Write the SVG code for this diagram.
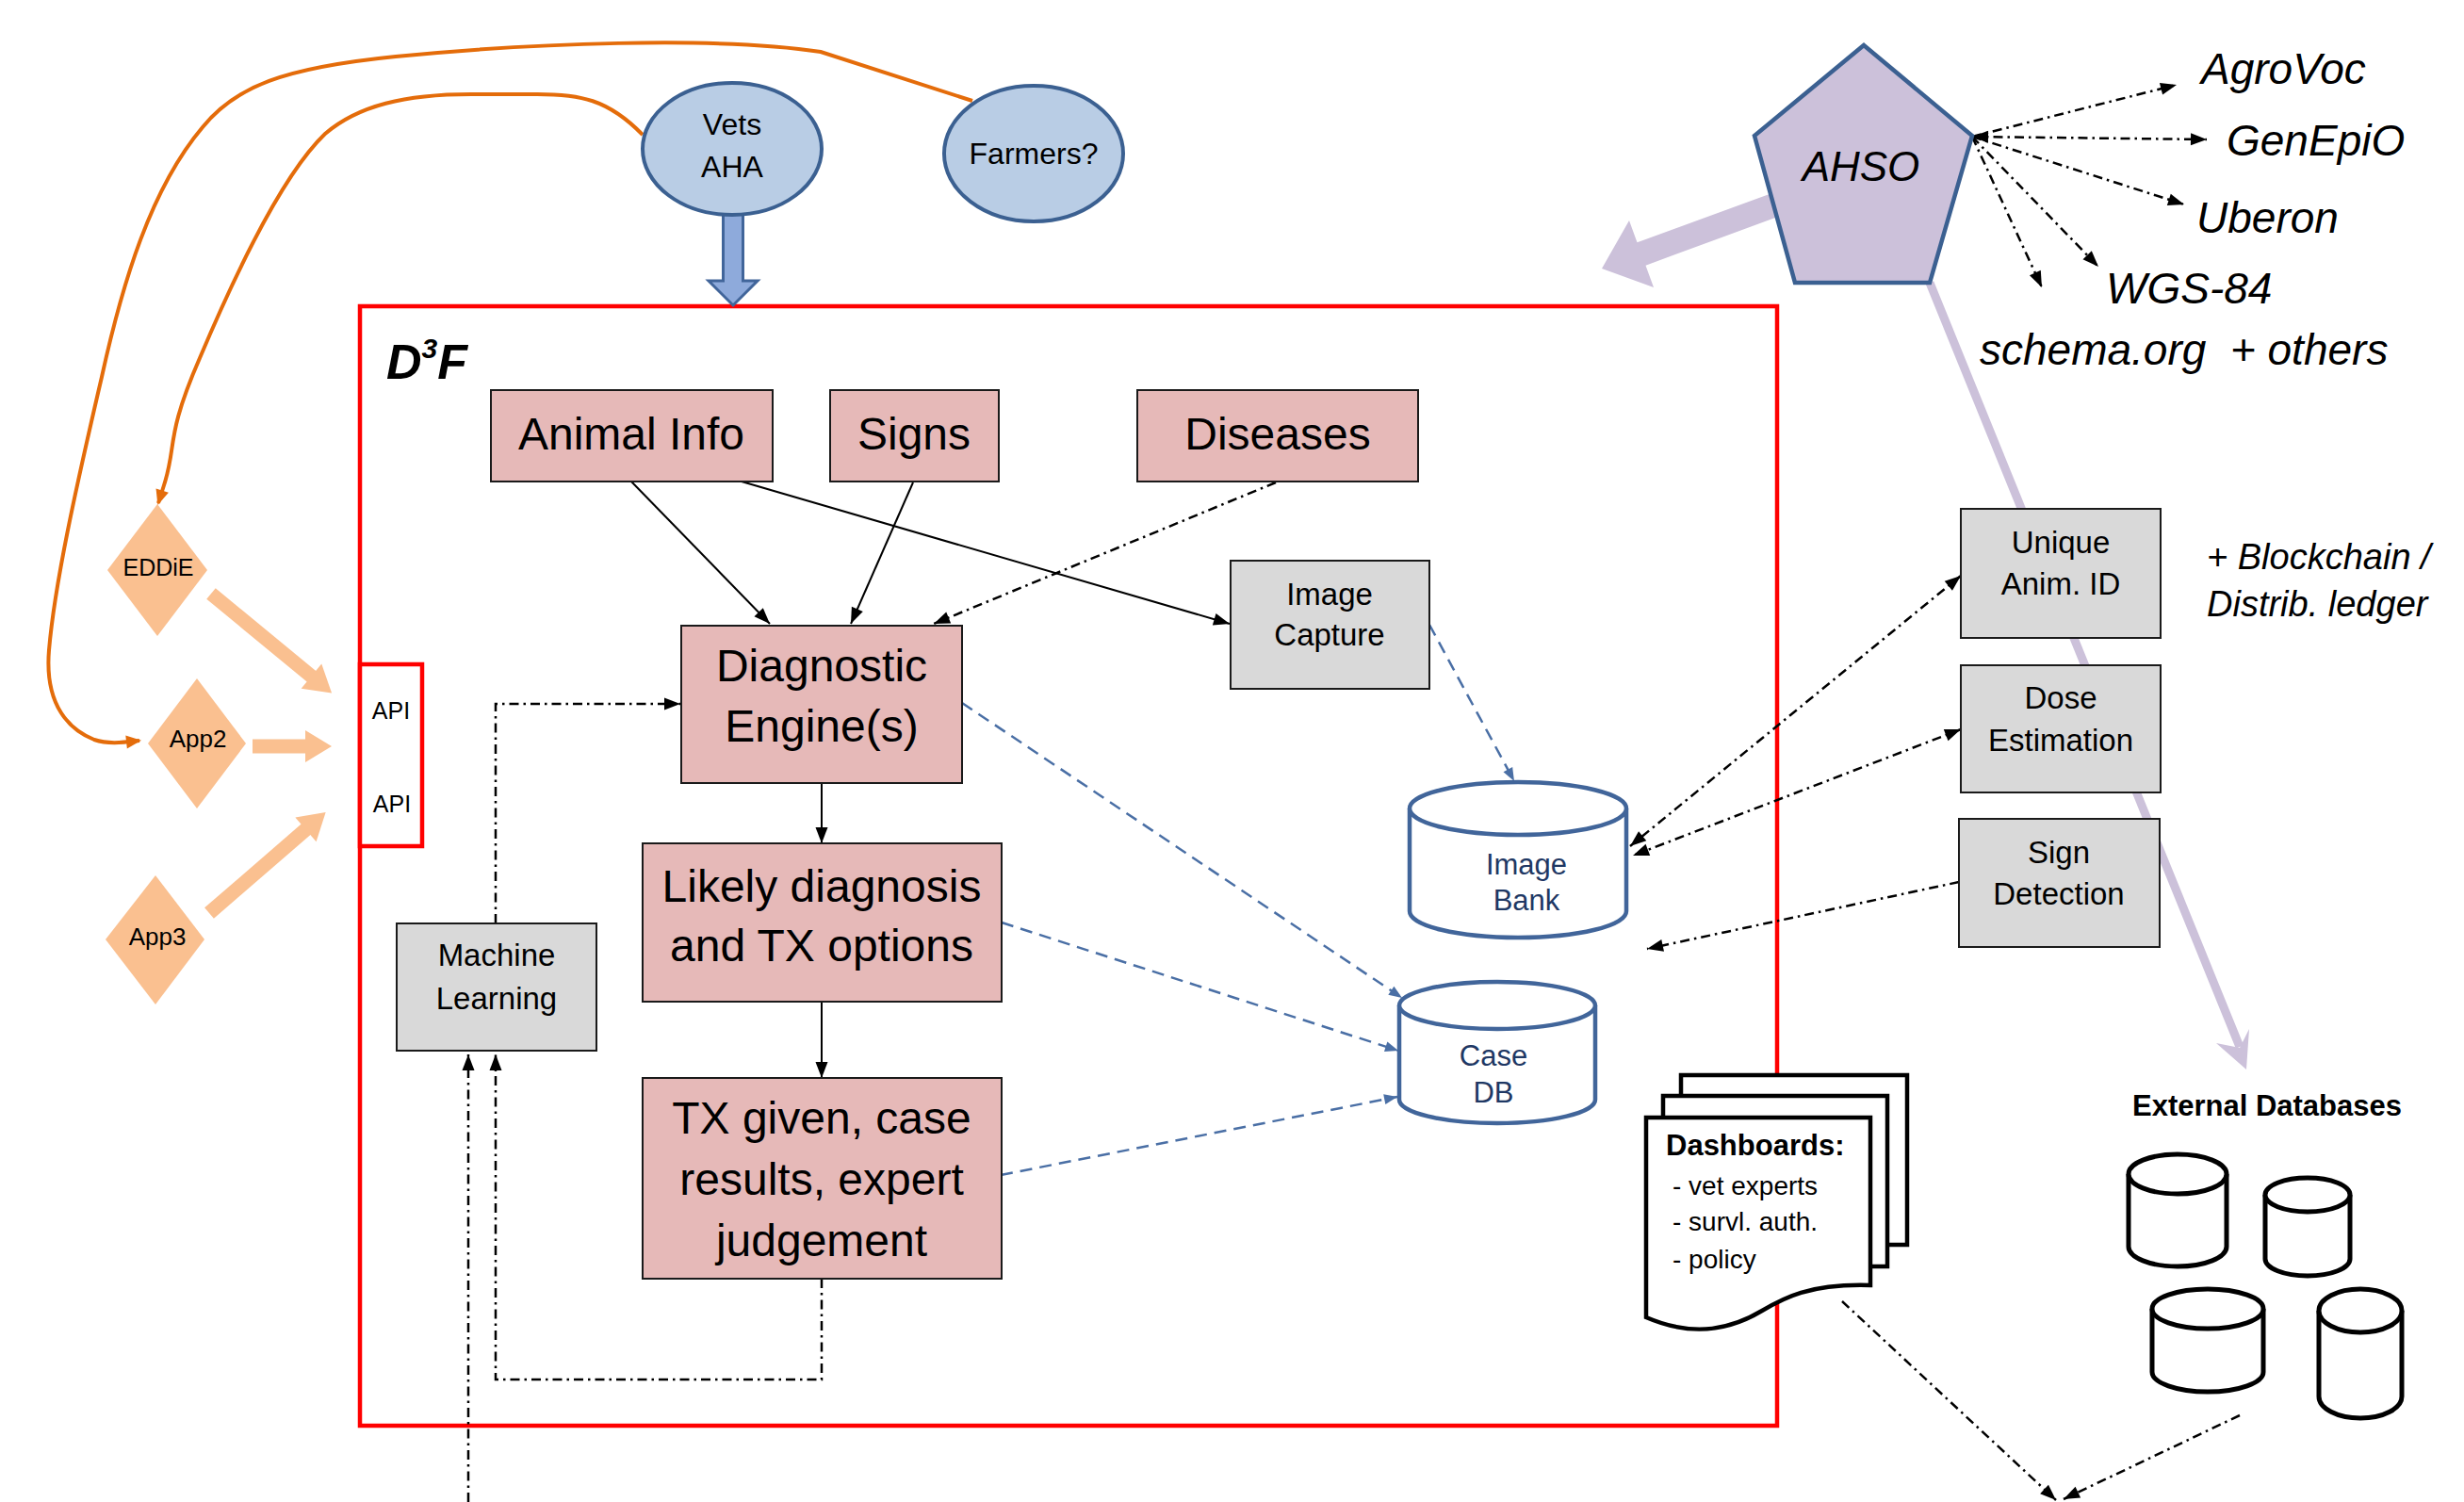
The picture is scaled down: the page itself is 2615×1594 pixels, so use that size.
<svg xmlns="http://www.w3.org/2000/svg" width="2615" height="1594" viewBox="0 0 2615 1594">
  <defs>
    <style>
      .t { font-family: "Liberation Sans", Arial, sans-serif; fill: #000; text-anchor: middle; dominant-baseline: central; }
      .ti { font-family: "Liberation Sans", Arial, sans-serif; fill: #000; font-style: italic; dominant-baseline: central; }
      .pink { fill: #E6B9B8; stroke: #1a1a1a; stroke-width: 2; }
      .gray { fill: #D9D9D9; stroke: #1a1a1a; stroke-width: 2; }
      .user { fill: #B9CDE5; stroke: #3B6091; stroke-width: 4; }
      .app { fill: #FAC090; }
      .solid { stroke: #000; stroke-width: 2; fill: none; marker-end: url(#ah); }
      .dd { stroke: #000; stroke-width: 2.5; fill: none; stroke-dasharray: 10 5 2.5 5; }
      .bd { stroke: #4A6FA5; stroke-width: 2.5; fill: none; stroke-dasharray: 13 8; marker-end: url(#ahBlue); }
      .orange { stroke: #E46C0A; stroke-width: 4; fill: none; marker-end: url(#ahOrange); }
      .feed { stroke: #FAC090; stroke-width: 15; fill: none; marker-end: url(#headFeed); }
      .bluecyl { fill: #fff; stroke: #41659A; stroke-width: 4.5; }
      .blkcyl { fill: #fff; stroke: #000; stroke-width: 5; }
      .page { fill: #fff; stroke: #000; stroke-width: 4.5; }
    </style>
    <marker id="ah" markerUnits="userSpaceOnUse" orient="auto" overflow="visible" markerWidth="1" markerHeight="1">
      <path d="M0,0 L-17,-6.5 L-17,6.5 Z" fill="#000"/>
    </marker>
    <marker id="ahStart" markerUnits="userSpaceOnUse" orient="auto-start-reverse" overflow="visible" markerWidth="1" markerHeight="1">
      <path d="M0,0 L-17,-6.5 L-17,6.5 Z" fill="#000"/>
    </marker>
    <marker id="ahBlue" markerUnits="userSpaceOnUse" orient="auto" overflow="visible" markerWidth="1" markerHeight="1">
      <path d="M0,0 L-14,-5.5 L-14,5.5 Z" fill="#4A6FA5"/>
    </marker>
    <marker id="ahOrange" markerUnits="userSpaceOnUse" orient="auto" overflow="visible" markerWidth="1" markerHeight="1">
      <path d="M2,0 L-14,-7 L-14,7 Z" fill="#E46C0A"/>
    </marker>
    <marker id="headFeed" markerUnits="userSpaceOnUse" orient="auto" overflow="visible" markerWidth="1" markerHeight="1">
      <path d="M-2,-17 L26,0 L-2,17 Z" fill="#FAC090"/>
    </marker>
  </defs>

  <rect width="2615" height="1594" fill="#fff"/>

  <!-- D3F framework boundary -->
  <g id="d3f-frame">
    <rect x="382" y="325" width="1504" height="1188" fill="none" stroke="#FF0000" stroke-width="4.5"/>
    <text x="410" y="402" font-family="'Liberation Sans', Arial, sans-serif" font-size="52" font-weight="bold" font-style="italic">D<tspan font-size="30" dy="-22">3</tspan><tspan dy="22">F</tspan></text>
  </g>

  <!-- connectors -->
  <g id="connectors">
    <!-- user links to apps -->
    <path class="orange" d="M1032,107 L871,55 C760,38 560,46 420,60 C300,72 250,92 215,135 C160,200 130,300 108,400 C80,520 58,620 52,690 C47,750 75,775 100,785 C115,790 130,788 148,786"/>
    <path class="orange" d="M682,143 C645,105 615,100 570,100 L500,100 C430,100 380,112 345,142 C300,185 250,290 212,380 C175,465 188,472 174,515 L168,534"/>

    <!-- apps feeding the APIs -->
    <line class="feed" x1="224" y1="630" x2="332" y2="719"/>
    <line class="feed" x1="268" y1="792" x2="326" y2="792"/>
    <line class="feed" x1="222" y1="969" x2="326" y2="879"/>

    <!-- users into D3F -->
    <path d="M767.5,226 H788.5 V298 H804 L778,324 L752,298 H767.5 Z" fill="#8EAADB" stroke="#41659A" stroke-width="3"/>

    <!-- AHSO feeding D3F -->
    <path d="M1889.5,229 L1746.5,281.7 L1755,305 L1700,285 L1729,234 L1737.5,257.3 L1880.5,205 Z" fill="#CCC1DA"/>
    <!-- AHSO link to external databases -->
    <line x1="2048" y1="300" x2="2377" y2="1111" stroke="#CCC1DA" stroke-width="9"/>
    <path d="M2384,1135 L2352,1107 L2377,1112 L2387,1092 Z" fill="#CCC1DA"/>

    <!-- AHSO to other ontologies -->
    <line class="dd" x1="2093" y1="145" x2="2310" y2="90" marker-end="url(#ah)"/>
    <line class="dd" x1="2093" y1="145" x2="2342" y2="148" marker-end="url(#ah)" marker-start="url(#ahStart)"/>
    <line class="dd" x1="2093" y1="145" x2="2318" y2="217" marker-end="url(#ah)"/>
    <line class="dd" x1="2093" y1="145" x2="2227" y2="283" marker-end="url(#ah)"/>
    <line class="dd" x1="2093" y1="145" x2="2167" y2="305" marker-end="url(#ah)"/>

    <!-- inputs to the diagnostic engine -->
    <line class="solid" x1="670" y1="511" x2="817" y2="662"/>
    <line class="solid" x1="787" y1="511" x2="1305" y2="662"/>
    <line class="solid" x1="969" y1="512" x2="903" y2="662"/>
    <line class="dd" x1="1354" y1="512" x2="991" y2="662" marker-end="url(#ah)"/>
    <line class="solid" x1="872" y1="831" x2="872" y2="895"/>
    <line class="solid" x1="872" y1="1063" x2="872" y2="1144"/>

    <!-- storage links -->
    <line class="bd" x1="1517" y1="663" x2="1607" y2="829"/>
    <line class="bd" x1="1021" y1="746" x2="1488" y2="1059"/>
    <line class="bd" x1="1063" y1="979" x2="1484" y2="1115"/>
    <line class="bd" x1="1062" y1="1247" x2="1483" y2="1164"/>

    <!-- learning loop -->
    <path class="dd" d="M526,980 V747 H722" marker-end="url(#ah)"/>
    <path class="dd" d="M872,1357 V1464 H526 V1119" marker-end="url(#ah)"/>
    <path class="dd" d="M497,1594 V1119" marker-end="url(#ah)"/>

    <!-- AI services -->
    <line class="dd" x1="2081" y1="611" x2="1730" y2="898" marker-end="url(#ah)" marker-start="url(#ahStart)"/>
    <line class="dd" x1="2081" y1="774" x2="1733" y2="908" marker-end="url(#ah)" marker-start="url(#ahStart)"/>
    <line class="dd" x1="2079" y1="936" x2="1748" y2="1007" marker-end="url(#ah)"/>

    <!-- outputs leaving the picture -->
    <line class="dd" x1="1955" y1="1381" x2="2182" y2="1592" marker-end="url(#ah)"/>
    <line class="dd" x1="2377" y1="1502" x2="2190" y2="1591" marker-end="url(#ah)"/>
  </g>

  <!-- users -->
  <g id="vets-aha">
    <ellipse class="user" cx="777" cy="158" rx="95" ry="70"/>
    <text class="t" x="777" y="132" font-size="32">Vets</text>
    <text class="t" x="777" y="177" font-size="32">AHA</text>
  </g>
  <g id="farmers">
    <ellipse class="user" cx="1097" cy="163" rx="95" ry="72"/>
    <text class="t" x="1097" y="163" font-size="32">Farmers?</text>
  </g>

  <!-- apps -->
  <g id="eddie">
    <polygon class="app" points="167,535 220,605 167,675 114,605"/>
    <text class="t" x="168" y="602" font-size="25">EDDiE</text>
  </g>
  <g id="app2">
    <polygon class="app" points="209,720 261,789 209,858 157,789"/>
    <text class="t" x="210" y="784" font-size="26">App2</text>
  </g>
  <g id="app3">
    <polygon class="app" points="165,929 217,997 165,1066 112,997"/>
    <text class="t" x="167" y="994" font-size="26">App3</text>
  </g>

  <g id="api">
    <rect x="382" y="705" width="66" height="193" fill="#fff" stroke="#FF0000" stroke-width="4.5"/>
    <text class="t" x="415" y="754" font-size="25">API</text>
    <text class="t" x="416" y="853" font-size="25">API</text>
  </g>

  <!-- knowledge inputs -->
  <g id="animal-info">
    <rect class="pink" x="521" y="414" width="299" height="97"/>
    <text class="t" x="670" y="460" font-size="48">Animal Info</text>
  </g>
  <g id="signs">
    <rect class="pink" x="881" y="414" width="179" height="97"/>
    <text class="t" x="970" y="460" font-size="48">Signs</text>
  </g>
  <g id="diseases">
    <rect class="pink" x="1207" y="414" width="298" height="97"/>
    <text class="t" x="1356" y="460" font-size="48">Diseases</text>
  </g>

  <!-- diagnosis chain -->
  <g id="diagnostic-engine">
    <rect class="pink" x="723" y="664" width="298" height="167"/>
    <text class="t" x="872" y="706" font-size="48">Diagnostic</text>
    <text class="t" x="872" y="770" font-size="48">Engine(s)</text>
  </g>
  <g id="likely-diagnosis">
    <rect class="pink" x="682" y="895" width="381" height="168"/>
    <text class="t" x="872" y="940" font-size="48">Likely diagnosis</text>
    <text class="t" x="872" y="1003" font-size="48">and TX options</text>
  </g>
  <g id="tx-given">
    <rect class="pink" x="682" y="1144" width="381" height="213"/>
    <text class="t" x="872" y="1186" font-size="48">TX given, case</text>
    <text class="t" x="872" y="1251" font-size="48">results, expert</text>
    <text class="t" x="872" y="1316" font-size="48">judgement</text>
  </g>

  <g id="image-capture">
    <rect class="gray" x="1306" y="595" width="211" height="136"/>
    <text class="t" x="1411" y="630" font-size="33">Image</text>
    <text class="t" x="1411" y="673" font-size="33">Capture</text>
  </g>
  <g id="machine-learning">
    <rect class="gray" x="421" y="980" width="212" height="135"/>
    <text class="t" x="527" y="1013" font-size="33">Machine</text>
    <text class="t" x="527" y="1059" font-size="33">Learning</text>
  </g>

  <!-- data stores -->
  <g id="image-bank">
    <path class="bluecyl" d="M1496,858 V967 A115,28 0 0 0 1726,967 V858"/>
    <ellipse class="bluecyl" cx="1611" cy="858" rx="115" ry="28"/>
    <text class="t" x="1620" y="917" font-size="31" style="fill:#1F3864">Image</text>
    <text class="t" x="1620" y="955" font-size="31" style="fill:#1F3864">Bank</text>
  </g>
  <g id="case-db">
    <path class="bluecyl" d="M1485,1067 V1167 A104,25 0 0 0 1693,1167 V1067"/>
    <ellipse class="bluecyl" cx="1589" cy="1067" rx="104" ry="25"/>
    <text class="t" x="1585" y="1120" font-size="31" style="fill:#1F3864">Case</text>
    <text class="t" x="1585" y="1159" font-size="31" style="fill:#1F3864">DB</text>
  </g>

  <!-- ontology -->
  <g id="ahso">
    <polygon points="1978,48 2093,144 2048,300 1905,300 1862,144" fill="#CCC1DA" stroke="#3B6091" stroke-width="4.5" stroke-linejoin="miter"/>
    <text class="t" x="1975" y="176" font-size="44" font-style="italic">AHSO</text>
  </g>
  <g id="ontologies">
    <text class="ti" x="2336" y="73" font-size="46">AgroVoc</text>
    <text class="ti" x="2363" y="149" font-size="46">GenEpiO</text>
    <text class="ti" x="2331" y="231" font-size="46">Uberon</text>
    <text class="ti" x="2235" y="306" font-size="46">WGS-84</text>
    <text class="ti" x="2101" y="371" font-size="46" xml:space="preserve">schema.org  + others</text>
  </g>

  <!-- AI services -->
  <g id="unique-anim-id">
    <rect class="gray" x="2081" y="540" width="212" height="137"/>
    <text class="t" x="2187" y="575" font-size="33">Unique</text>
    <text class="t" x="2187" y="619" font-size="33">Anim. ID</text>
  </g>
  <g id="blockchain-note">
    <text class="ti" x="2342" y="591" font-size="38">+ Blockchain /</text>
    <text class="ti" x="2342" y="641" font-size="38">Distrib. ledger</text>
  </g>
  <g id="dose-estimation">
    <rect class="gray" x="2081" y="706" width="212" height="135"/>
    <text class="t" x="2187" y="740" font-size="33">Dose</text>
    <text class="t" x="2187" y="785" font-size="33">Estimation</text>
  </g>
  <g id="sign-detection">
    <rect class="gray" x="2079" y="869" width="213" height="136"/>
    <text class="t" x="2185" y="904" font-size="33">Sign</text>
    <text class="t" x="2185" y="948" font-size="33">Detection</text>
  </g>

  <!-- outputs -->
  <g id="dashboards">
    <rect class="page" x="1784" y="1141" width="240" height="180"/>
    <rect class="page" x="1765" y="1163" width="238" height="181"/>
    <path class="page" d="M1747,1186 H1985 V1364 C1920,1362 1892,1378 1870,1391 C1840,1409 1800,1421 1747,1398 Z"/>
    <text x="1768" y="1215" font-family="'Liberation Sans', Arial, sans-serif" font-size="31" font-weight="bold" dominant-baseline="central">Dashboards:</text>
    <text x="1775" y="1258" font-family="'Liberation Sans', Arial, sans-serif" font-size="28" dominant-baseline="central">- vet experts</text>
    <text x="1775" y="1296" font-family="'Liberation Sans', Arial, sans-serif" font-size="28" dominant-baseline="central">- survl. auth.</text>
    <text x="1775" y="1336" font-family="'Liberation Sans', Arial, sans-serif" font-size="28" dominant-baseline="central">- policy</text>
  </g>

  <g id="external-databases">
    <text class="t" x="2406" y="1173" font-size="31" font-weight="bold">External Databases</text>
    <path class="blkcyl" d="M2259,1246 V1323 A52,21 0 0 0 2363,1323 V1246"/>
    <ellipse class="blkcyl" cx="2311" cy="1246" rx="52" ry="21"/>
    <path class="blkcyl" d="M2404,1268 V1336 A45,18 0 0 0 2494,1336 V1268"/>
    <ellipse class="blkcyl" cx="2449" cy="1268" rx="45" ry="18"/>
    <path class="blkcyl" d="M2284,1389 V1456 A59,21 0 0 0 2402,1456 V1389"/>
    <ellipse class="blkcyl" cx="2343" cy="1389" rx="59" ry="21"/>
    <path class="blkcyl" d="M2461,1391 V1482 A44,23 0 0 0 2549,1482 V1391"/>
    <ellipse class="blkcyl" cx="2505" cy="1391" rx="44" ry="23"/>
  </g>
</svg>
